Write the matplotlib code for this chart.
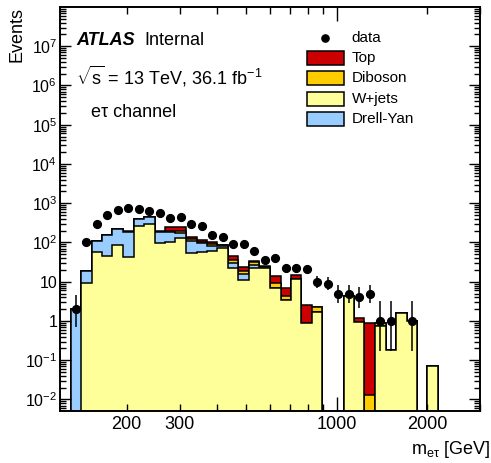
import numpy as np
import matplotlib
matplotlib.use("Agg")
import matplotlib.pyplot as plt
from matplotlib.patches import Rectangle

plt.rcParams['font.family'] = ['Liberation Sans', 'DejaVu Sans']
plt.rcParams['mathtext.fontset'] = 'custom'
plt.rcParams['mathtext.rm'] = 'Liberation Sans'
plt.rcParams['mathtext.it'] = 'Liberation Sans:italic'
plt.rcParams['mathtext.bf'] = 'Liberation Sans:bold'

# ---------------- data ----------------
bin_edges = [120.0, 130.1, 141.0, 152.8, 165.6, 179.4, 194.5, 210.8, 228.4, 247.6,
             268.3, 290.8, 315.2, 341.6, 370.2, 401.2, 434.9, 471.3, 510.8, 553.6,
             600.0, 650.3, 704.8, 763.8, 827.8, 897.2, 972.4, 1053.9, 1142.2, 1237.9,
             1341.7, 1454.1, 1575.9, 1708.0, 1851.1, 2006.2, 2174.4, 2356.6, 2554.0,
             2768.1, 3000.0]

wjets = [0, 0, 9.1, 58.5, 45, 86, 43, 263, 290, 95,
         105, 130, 53, 58, 62, 71, 23, 11.1, 22, 23,
         7.1, 3.5, 11.5, 0.87, 1.66, 0, 0, 4.3, 0.96, 0,
         0.75, 0.18, 1.57, 1.02, 0, 0.073, 0, 0, 0, 0]
drellyan = [0, 2.0, 9.6, 50.5, 110, 131, 138, 135, 164, 90,
            85, 48, 58, 37, 19, 12, 6.5, 4.4, 4.7, 0.6,
            0, 0, 0, 0, 0, 0, 0, 0, 0, 0,
            0, 0, 0, 0, 0, 0, 0, 0, 0, 0]
diboson = [0, 0, 0, 0, 0, 0, 4, 2, 2, 4,
           12, 20, 10, 5, 8, 2, 7, 3.5, 4.3, 0.6,
           2, 0.9, 0, 0, 0.55, 0, 0, 0, 0, 0.013,
           0.15, 0, 0, 0, 0, 0, 0, 0, 0, 0]
top = [0, 0, 0, 0, 0, 0, 8, 3, 3, 6,
       40, 44, 20, 16, 16, 2, 9.5, 5, 2, 0.6,
       5.2, 2.7, 3.3, 1.69, 0.09, 0, 0, 0, 0.21, 0.89,
       0, 0, 0, 0, 0, 0, 0, 0, 0, 0]

data = [np.nan, 2, 105, 300, 490, 670, 745, 730, 650, 550,
        430, 450, 300, 263, 155, 141, 93, 90, 62, 36,
        40, 22, 22, 21, 10, 9, 5, 5, 4, 5,
        1, 1, np.nan, 1, np.nan, np.nan, np.nan, np.nan, np.nan, np.nan]
data_err_lo = [0, 1.29, 10.2, 17.3, 22.1, 25.9, 27.3, 27.0, 25.5, 23.5,
               20.7, 21.2, 17.3, 16.2, 12.4, 11.9, 9.6, 9.5, 7.9, 6.0,
               6.3, 4.7, 4.7, 4.6, 3.1, 2.9, 2.16, 2.16, 1.91, 2.16,
               0.83, 0.83, 0, 0.83, 0, 0, 0, 0, 0, 0]
data_err_hi = [0, 2.64, 11.3, 18.3, 23.1, 26.9, 28.3, 28.0, 26.5, 24.5,
               21.7, 22.2, 18.3, 17.2, 13.5, 12.9, 10.7, 10.5, 8.9, 7.0,
               7.4, 5.7, 5.7, 5.6, 4.3, 4.1, 3.38, 3.38, 3.16, 3.38,
               2.30, 2.30, 0, 2.30, 0, 0, 0, 0, 0, 0]

legend_labels = ['data', 'Top', 'Diboson', 'W+jets', 'Drell-Yan']
colors = {'Top': '#cc0000', 'Diboson': '#ffcc00', 'W+jets': '#ffff99', 'Drell-Yan': '#99ccff'}

# ---------------- figure ----------------
fig = plt.figure(figsize=(4.91, 4.63), dpi=100)
ax = fig.add_axes([60/491, 52/463, 420/491, 404/463])
ax.set_xscale('log')
ax.set_yscale('log')

edges = np.array(bin_edges)
w = np.array(wjets, float)
dy = np.array(drellyan, float)
db = np.array(diboson, float)
tp = np.array(top, float)

lev_w = w
lev_dy = w + dy
lev_db = lev_dy + db
lev_tp = lev_db + tp
tiny = 1e-9
for lev, c in [(lev_tp, colors['Top']), (lev_db, colors['Diboson']),
               (lev_dy, colors['Drell-Yan']), (lev_w, colors['W+jets'])]:
    vals = np.where(lev > 0, lev, tiny)
    ax.stairs(vals, edges, baseline=tiny, fill=True, facecolor=c,
              edgecolor='black', linewidth=1.1, zorder=1)

centers = np.sqrt(edges[:-1] * edges[1:])
d = np.array(data, float)
ax.errorbar(centers, d, yerr=[data_err_lo, data_err_hi], fmt='o', color='black',
            ms=5.6, elinewidth=1.1, capsize=0, zorder=3)

ax.set_xlim(120, 3000)
ax.set_ylim(5.09e-3, 1e8)

# x ticks
ax.set_xticks([1000], labels=['1000'])
minor_x = [200, 300, 400, 500, 600, 700, 800, 900, 2000, 3000]
minor_x_lab = ['200', '300', '', '', '', '', '', '', '2000', '']
ax.set_xticks(minor_x, labels=minor_x_lab, minor=True)
ax.tick_params(axis='x', which='major', direction='in', length=10, width=1.0,
               top=True, labelsize=13, pad=3.5)
ax.tick_params(axis='x', which='minor', direction='in', length=5, width=1.0,
               top=True, labelsize=13, pad=3.5)

# y ticks
ymaj = [1e-2, 1e-1, 1, 10, 1e2, 1e3, 1e4, 1e5, 1e6, 1e7]
ylab = [r'$10^{-2}$', r'$10^{-1}$', '1', '10', r'$10^{2}$', r'$10^{3}$',
        r'$10^{4}$', r'$10^{5}$', r'$10^{6}$', r'$10^{7}$']
ax.set_yticks(ymaj, labels=ylab)
ymin = [m * 10.0**e for e in range(-3, 8) for m in range(2, 10)]
ax.set_yticks(ymin, minor=True)
ax.set_ylim(5.09e-3, 1e8)
ax.tick_params(axis='y', which='major', direction='in', length=8, width=1.0,
               right=True, labelsize=11.5, pad=2)
ax.tick_params(axis='y', which='minor', direction='in', length=4, width=1.0,
               right=True)
for s in ax.spines.values():
    s.set_linewidth(1.4)

ax.set_ylabel('Events', fontsize=13, loc='top')
ax.yaxis.set_label_coords(-0.083, 1.0)
ax.set_xlabel(r'm$_{\mathrm{e\tau}}$ [GeV]', fontsize=13, loc='right')
ax.xaxis.set_label_coords(1.024, -0.0965)
ax.xaxis.label.set_va('center')

# texts
ax.text(0.038, 0.917, 'ATLAS', transform=ax.transAxes, fontsize=13,
        fontweight='bold', fontstyle='italic', va='center', ha='left')
ax.text(0.200, 0.917, 'Internal', transform=ax.transAxes, fontsize=13,
        va='center', ha='left')
ax.text(0.039, 0.827, r'$\sqrt{\mathrm{s}}$ = 13 TeV, 36.1 fb$^{-1}$', transform=ax.transAxes,
        fontsize=13, va='center', ha='left')
ax.text(0.074, 0.738, 'eτ channel', transform=ax.transAxes, fontsize=13,
        va='center', ha='left')

# legend (drawn by hand, ROOT-like)
rows_y = [0.923, 0.874, 0.824, 0.772, 0.723]
bx0, bx1 = 0.587, 0.675
bh = 0.0347
tx = 0.6945
ax.plot([(bx0 + bx1) / 2], [rows_y[0]], 'o', color='black', ms=5.2,
        transform=ax.transAxes, clip_on=False)
for lab, yy in zip(legend_labels, rows_y):
    if lab != 'data':
        ax.add_patch(Rectangle((bx0, yy - bh / 2), bx1 - bx0, bh, transform=ax.transAxes,
                               facecolor=colors[lab], edgecolor='black', linewidth=1.1,
                               zorder=4))
    ax.text(tx, yy, lab, transform=ax.transAxes, fontsize=11, va='center', ha='left')

fig.savefig('out.png', dpi=100)
